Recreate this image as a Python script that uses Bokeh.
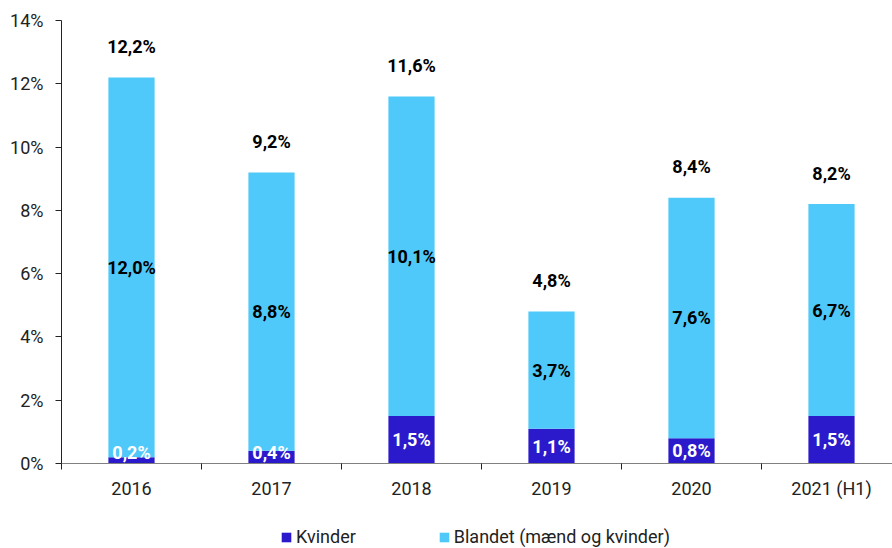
import numpy as np
from bokeh.plotting import figure
from bokeh.layouts import column
from bokeh.models import (ColumnDataSource, FixedTicker, PrintfTickFormatter, Legend, LegendItem, Range1d)
from bokeh.core.properties import value
from bokeh.embed import file_html
from bokeh.resources import INLINE

years = ["2016", "2017", "2018", "2019", "2020", "2021 (H1)"]
kvinder = [0.2, 0.4, 1.5, 1.1, 0.8, 1.5]
blandet = [12.0, 8.8, 10.1, 3.7, 7.6, 6.7]
series_names = ["Kvinder", "Blandet (mænd og kvinder)"]
y_ticks = [0, 2, 4, 6, 8, 10, 12, 14]

DARK = "#2B1ACB"
LIGHT = "#4FC9F9"
FONT = "Roboto"

def fmt(v):
    return f"{v:.1f}".replace(".", ",") + "%"

xc = [i + 0.5 for i in range(len(years))]
tot = [k + b for k, b in zip(kvinder, blandet)]
src = ColumnDataSource(dict(
    x=xc, kvinder=kvinder, blandet=blandet, total=tot,
    mid_b=[k + b / 2 for k, b in zip(kvinder, blandet)],
    mid_k=[max(k / 2, 0.35) for k in kvinder],
    lab_k=[fmt(v) for v in kvinder],
    lab_b=[fmt(v) for v in blandet],
    lab_t=[fmt(v) for v in tot],
))

p = figure(width=892, height=510, output_backend="svg", toolbar_location=None,
           x_range=Range1d(0, (892 - 61) / 140), y_range=Range1d(0, 14),
           min_border_left=61, min_border_right=0, min_border_top=20, min_border_bottom=47)
p.outline_line_color = None
p.grid.visible = False

r = p.vbar_stack(["kvinder", "blandet"], x="x", width=0.33, color=[DARK, LIGHT],
                 line_color=None, source=src)

p.text(x="x", y="mid_k", text="lab_k", source=src, text_align="center", text_baseline="middle",
       text_color="white", text_font=value(FONT), text_font_style="bold", text_font_size="18px")
p.text(x="x", y="mid_b", text="lab_b", source=src, text_align="center", text_baseline="middle",
       text_color="black", text_font=value(FONT), text_font_style="bold", text_font_size="18px")
p.text(x="x", y="total", text="lab_t", source=src, text_align="center", text_baseline="middle",
       y_offset=-31, text_color="black", text_font=value(FONT), text_font_style="bold",
       text_font_size="18px")

# y axis
p.yaxis.ticker = FixedTicker(ticks=y_ticks)
p.yaxis.formatter = PrintfTickFormatter(format="%d%%")
p.yaxis.major_tick_in = 0
p.yaxis.major_tick_out = 6
p.yaxis.minor_tick_line_color = None
p.yaxis.axis_line_color = "#222222"
p.yaxis.major_tick_line_color = "#222222"
p.yaxis.major_label_text_font = FONT
p.yaxis.major_label_text_font_size = "18px"
p.yaxis.major_label_text_color = "#222222"
p.yaxis.major_label_standoff = 12

# x axis
p.xaxis.ticker = FixedTicker(ticks=xc, minor_ticks=list(range(len(years))))
p.xaxis.major_label_overrides = {x: y for x, y in zip(xc, years)}
p.xaxis.major_tick_line_color = None
p.xaxis.minor_tick_in = 0
p.xaxis.minor_tick_out = 6
p.xaxis.minor_tick_line_color = "#222222"
p.xaxis.axis_line_color = "#808080"
p.xaxis.major_label_text_font = FONT
p.xaxis.major_label_text_font_size = "18px"
p.xaxis.major_label_text_color = "#222222"
p.xaxis.major_label_standoff = 8

# legend strip (the legend swatches reuse the bar colours; dummy renderers lie outside the view)
q = figure(width=892, height=38, output_backend="svg", toolbar_location=None,
           x_range=Range1d(0, 1), y_range=Range1d(0, 1),
           x_axis_location=None, y_axis_location=None,
           min_border_left=0, min_border_right=0, min_border_top=0, min_border_bottom=0)
q.grid.visible = False
q.outline_line_color = None
d1 = q.vbar(x=[-5], top=[0], width=0.1, color=DARK, line_color=None)
d2 = q.vbar(x=[-5], top=[0], width=0.1, color=LIGHT, line_color=None)
legend = Legend(items=[LegendItem(label=series_names[0], renderers=[d1]),
                       LegendItem(label=series_names[1], renderers=[d2])],
                orientation="horizontal", location=(219, 1),
                glyph_width=12, glyph_height=12, label_standoff=4, spacing=82,
                label_text_font=FONT, label_text_font_size="18px", label_text_color="#222222",
                border_line_color=None, background_fill_alpha=0, padding=0, margin=0)
legend.label_height = 20
q.add_layout(legend, "center")

open("out.html", "w").write(file_html(column(p, q, spacing=0), INLINE))
